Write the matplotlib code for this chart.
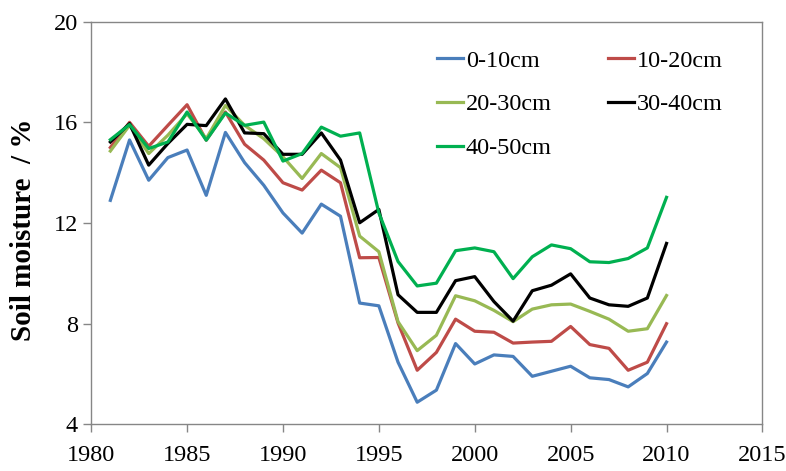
import matplotlib
matplotlib.use('Agg')
import matplotlib.pyplot as plt
import numpy as np

# Dane: wilgotność gleby w warstwach (1981-2010)
years = list(range(1981, 2011))

d0_10 = [12.9, 15.3, 13.7, 14.6, 14.9, 13.1, 15.6, 14.4, 13.5, 12.4,
         11.6, 12.75, 12.27, 8.82, 8.71, 6.47, 4.88, 5.36, 7.21, 6.40,
         6.76, 6.70, 5.91, 6.11, 6.31, 5.85, 5.78, 5.49, 6.02, 7.27]
d10_20 = [15.0, 16.0, 15.05, 15.88, 16.7, 15.29, 16.41, 15.13, 14.5, 13.6,
          13.31, 14.1, 13.6, 10.62, 10.63, 8.03, 6.15, 6.86, 8.18, 7.70,
          7.66, 7.23, 7.27, 7.30, 7.89, 7.17, 7.02, 6.15, 6.47, 8.0]
d20_30 = [14.86, 15.88, 14.76, 15.49, 16.34, 15.35, 16.67, 15.88, 15.35, 14.63,
          13.77, 14.76, 14.2, 11.48, 10.86, 8.08, 6.93, 7.54, 9.11, 8.91,
          8.53, 8.08, 8.58, 8.75, 8.78, 8.49, 8.18, 7.70, 7.80, 9.12]
d30_40 = [15.22, 15.95, 14.3, 15.16, 15.92, 15.87, 16.93, 15.58, 15.55, 14.73,
          14.73, 15.58, 14.5, 12.01, 12.54, 9.15, 8.45, 8.45, 9.71, 9.87,
          8.88, 8.1, 9.31, 9.53, 9.98, 9.02, 8.75, 8.69, 9.02, 11.19]
d40_50 = [15.31, 15.91, 14.96, 15.22, 16.41, 15.29, 16.37, 15.88, 16.01, 14.46,
          14.76, 15.81, 15.45, 15.58, 12.4, 10.47, 9.50, 9.61, 10.90, 11.01,
          10.86, 9.79, 10.66, 11.13, 10.98, 10.46, 10.43, 10.59, 11.01, 13.02]

labels = ['0-10cm', '10-20cm', '20-30cm', '30-40cm', '40-50cm']
colors = ['#4A7EBB', '#BE4B48', '#98B954', '#000000', '#00B050']
series = [d0_10, d10_20, d20_30, d30_40, d40_50]

plt.rcParams['font.family'] = ['Liberation Serif', 'DejaVu Serif']

fig = plt.figure(figsize=(7.86, 4.71), dpi=100)
ax = fig.add_axes([0.116, 0.099, 0.854, 0.855])

lines = []
for vals, lab, col in zip(series, labels, colors):
    ln, = ax.plot(years, vals, color=col, linewidth=2.3, label=lab)
    lines.append(ln)

ax.set_xlim(1980, 2015)
ax.set_ylim(4, 20)
ax.set_xticks(range(1980, 2016, 5))
ax.set_yticks([4, 8, 12, 16, 20])
ax.tick_params(labelsize=17.5, length=6, color='#868686', width=1, direction='out')
ax.tick_params(axis='x', pad=9)
for sp in ax.spines.values():
    sp.set_color('#868686')
    sp.set_linewidth(1)

ax.set_ylabel('Soil moisture  / %', fontsize=21, fontweight='bold')
ax.yaxis.set_label_coords(-0.08, 0.483)

# kolejność wierszami: 0-10, 10-20 / 20-30, 30-40 / 40-50
order = [0, 2, 4, 1, 3]
ax.legend([lines[i] for i in order], [labels[i] for i in order],
          ncol=2, loc='upper left', bbox_to_anchor=(0.5, 0.955),
          frameon=False, fontsize=17.5, handlelength=1.1, handletextpad=0.1,
          columnspacing=2.3, labelspacing=0.9, borderaxespad=0)

plt.savefig('out.png', dpi=100)
